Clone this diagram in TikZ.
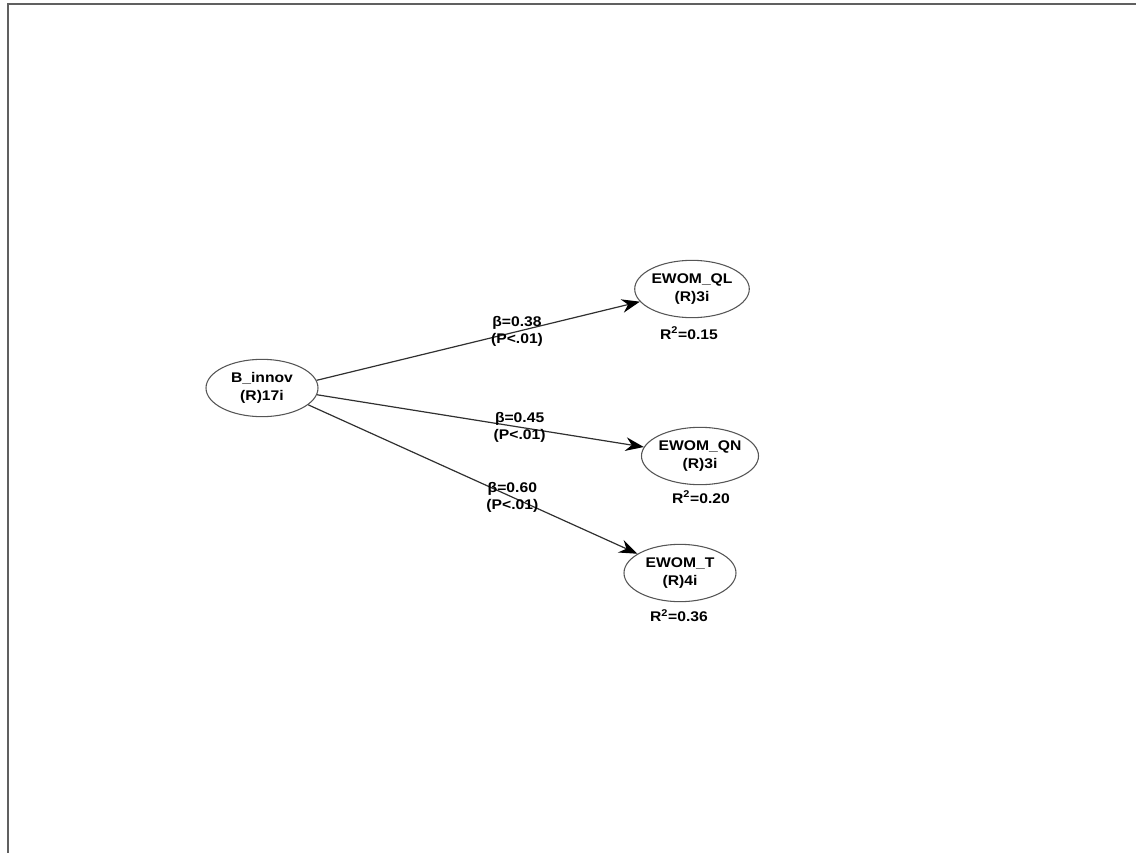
\documentclass[tikz,border=0pt]{standalone}
\usepackage{fontspec}
\setmainfont{Liberation Sans}[FakeStretch=1.12]
\usetikzlibrary{arrows.meta,shapes.geometric}
\definecolor{Frame}{HTML}{606060}
\definecolor{Ink}{HTML}{303030}
\definecolor{Rim}{HTML}{555555}
\tikzset{
  construct/.style={
    ellipse, draw=Rim, line width=0.8pt, fill=white, inner sep=0pt,
    minimum width=84pt, minimum height=43pt, align=center,
    font=\fontsize{10.5}{14}\selectfont\bfseries
  },
  rsq/.style={inner sep=0pt, font=\fontsize{10.5}{14}\selectfont\bfseries},
  coef/.style={inner sep=0pt, align=center,
    font=\fontsize{10.5}{13}\selectfont\bfseries},
  effect/.style={-{Stealth[length=4.8mm,width=3.6mm,inset=1.6mm,color=black]},
    line width=0.9pt, draw=Ink}
}
\begin{document}
\begin{tikzpicture}[x=0.75pt,y=-0.75pt]
    \useasboundingbox (0,0) rectangle (1136,853);
    \draw[Frame,line width=1.5pt] (8,853) -- (8,4) -- (1136,4);

    \node[construct] (innov) at (262,388) {B\_innov\\(R)17i};
    \node[construct] (ql) at (692,289) {EWOM\_QL\\(R)3i};
    \node[construct,minimum width=86pt] (qn) at (700,456) {EWOM\_QN\\(R)3i};
    \node[construct] (tot) at (680,573) {EWOM\_T\\(R)4i};

    \node[rsq] (r2ql) at (689,333) {R\textsuperscript{2}=0.15};
    \node[rsq] (r2qn) at (701,497) {R\textsuperscript{2}=0.20};
    \node[rsq] (r2tot) at (679,616) {R\textsuperscript{2}=0.36};

    \draw[effect] (innov.8) -- node[coef,pos=0.62]{β=0.38\\(P<.01)} (ql);
    \draw[effect] (innov.-7) -- node[coef,pos=0.62]{β=0.45\\(P<.01)} (qn);
    \draw[effect] (innov.-20) -- node[coef,pos=0.62]{β=0.60\\(P<.01)} (tot);
  \end{tikzpicture}
\end{document}
